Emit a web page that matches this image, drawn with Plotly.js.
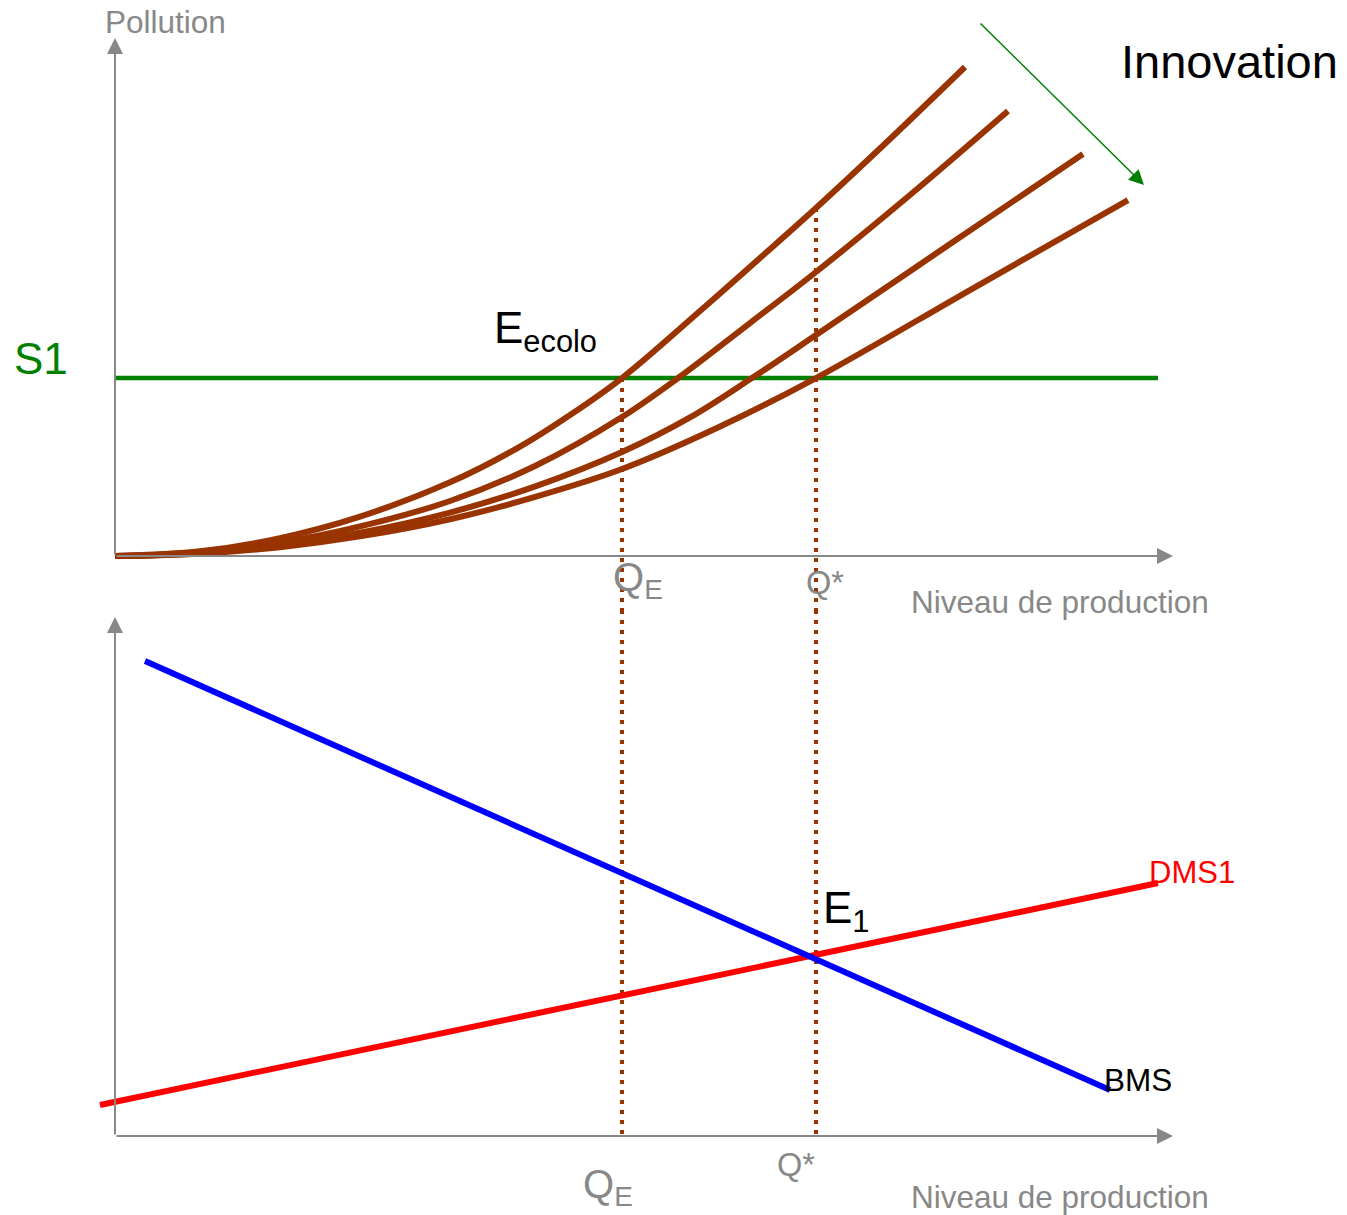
<!DOCTYPE html>
<html>
<head>
<meta charset="utf-8">
<script src="https://cdn.plot.ly/plotly-3.0.1.min.js"></script>
<style>html,body{margin:0;padding:0;background:#fff;}#chart{width:1347px;height:1215px;}</style>
</head>
<body>
<div id="chart"></div>
<script>
// ---- data (production level x, pollution / marginal values y) ----
const curve1X = [0, 0.85, 1.65, 2.45, 3.35, 4.05, 4.55, 5.07, 5.85, 6.45, 7.01, 7.75, 8.50];
const curve1Y = [0, 0.047, 0.179, 0.394, 0.737, 1.094, 1.41, 1.78, 2.45, 2.98, 3.48, 4.17, 4.89];
const curve2X = [0, 0.85, 1.65, 2.45, 3.35, 4.21, 5.07, 5.63, 6.35, 7.01, 7.95, 8.93];
const curve2Y = [0, 0.036, 0.134, 0.296, 0.55, 0.905, 1.39, 1.78, 2.33, 2.84, 3.61, 4.45];
const curve3X = [0, 0.85, 1.65, 2.45, 3.35, 4.21, 5.07, 5.75, 6.37, 7.01, 8.35, 9.68];
const curve3Y = [0, 0.028, 0.106, 0.233, 0.435, 0.699, 1.04, 1.386, 1.78, 2.21, 3.12, 4.02];
const curve4X = [0, 0.85, 1.65, 2.45, 3.35, 4.21, 5.07, 6.04, 7.01, 8.55, 10.13];
const curve4Y = [0, 0.024, 0.089, 0.197, 0.368, 0.594, 0.87, 1.29, 1.78, 2.66, 3.56];
const s1X = [0, 10.43];
const s1Y = [1.78, 1.78];
const qE = 5.07;
const qStar = 7.01;
const bmsX = [0.30, 9.95];
const bmsY = [4.75, 0.46];
const dmsX = [-0.15, 10.43];
const dmsY = [0.31, 2.53];

const brown = '#993300';
const grey = '#888888';
const font = 'Liberation Sans, Arial, sans-serif';

function line(x, y, color, width, yaxis, dash) {
  return {x: x, y: y, type: 'scatter', mode: 'lines', yaxis: yaxis, hoverinfo: 'skip',
    line: {color: color, width: width, shape: 'spline', smoothing: 1, dash: dash || 'solid'}, cliponaxis: false};
}

const traces = [
  line(s1X, s1Y, '#008000', 4.5, 'y'),
  line(curve4X, curve4Y, brown, 6, 'y'),
  line(curve3X, curve3Y, brown, 6, 'y'),
  line(curve2X, curve2Y, brown, 6, 'y'),
  line(curve1X, curve1Y, brown, 6, 'y'),
  line([qE, qE], [s1Y[0], -0.54], brown, 4, 'y', '4px,6px'),
  line([qStar, qStar], [curve1Y[10], -0.54], brown, 4, 'y', '4px,6px'),
  line([qE, qE], [5.26, 0], brown, 4, 'y2', '4px,6px'),
  line([qStar, qStar], [5.26, 0], brown, 4, 'y2', '4px,6px'),
  line(dmsX, dmsY, '#ff0000', 6, 'y2'),
  line(bmsX, bmsY, '#0000ff', 6, 'y2')
];

function arrow(x, y, ax, ay, yref, color, w, size) {
  return {x: x, y: y, ax: ax, ay: ay, xref: 'x', yref: yref, axref: 'x', ayref: yref,
    text: '', showarrow: true, arrowhead: 2, arrowsize: size, arrowwidth: w, arrowcolor: color};
}
function label(text, x, y, yref, size, color, xanchor) {
  return {x: x, y: y, xref: 'x', yref: yref, text: text, showarrow: false,
    xanchor: xanchor || 'left', yanchor: 'middle', font: {family: font, size: size, color: color}};
}

const annotations = [
  arrow(0, 5.18, 0, 0, 'y', grey, 2, 1.6),
  arrow(10.58, 0, 0, 0, 'y', grey, 2, 1.6),
  arrow(0, 5.19, 0, 0, 'y2', grey, 2, 1.6),
  arrow(10.58, 0, 0, 0, 'y2', grey, 2, 1.6),
  arrow(10.29, 3.71, 8.64, 5.34, 'y', '#008000', 1.5, 2),
  label('Pollution', 0.5, 5.34, 'y', 31.5, grey, 'center'),
  label('Innovation', 11.14, 4.95, 'y', 47, '#000000', 'center'),
  label('S1', -0.74, 1.98, 'y', 44, '#008000', 'center'),
  label('E<sub>ecolo</sub>', 3.77, 2.25, 'y', 44, '#000000'),
  label('Q<sub>E</sub>', 4.96, -0.24, 'y', 40, grey),
  label('Q*', 6.89, -0.27, 'y', 32.5, grey),
  label('Niveau de production', 7.94, -0.46, 'y', 31.5, grey),
  label('Q<sub>E</sub>', 4.66, -0.51, 'y2', 40, grey),
  label('Q*', 6.60, -0.29, 'y2', 32.5, grey),
  label('Niveau de production', 7.94, -0.61, 'y2', 31.5, grey),
  label('E<sub>1</sub>', 7.06, 2.25, 'y2', 44, '#000000'),
  label('DMS1', 10.32, 2.64, 'y2', 31, '#ff0000'),
  label('BMS', 9.87, 0.56, 'y2', 31.5, '#000000')
];

const layout = {
  width: 1347, height: 1215,
  margin: {l: 0, r: 0, t: 0, b: 0},
  paper_bgcolor: '#ffffff', plot_bgcolor: '#ffffff',
  showlegend: false,
  xaxis: {range: [-1.15, 12.32], visible: false, domain: [0, 1]},
  yaxis: {range: [-0.54, 5.56], visible: false, domain: [0.4979, 1], anchor: 'x'},
  yaxis2: {range: [-0.79, 5.26], visible: false, domain: [0, 0.4979], anchor: 'x'},
  annotations: annotations
};

Plotly.newPlot('chart', traces, layout, {displayModeBar: false, staticPlot: true});
</script>
</body>
</html>
